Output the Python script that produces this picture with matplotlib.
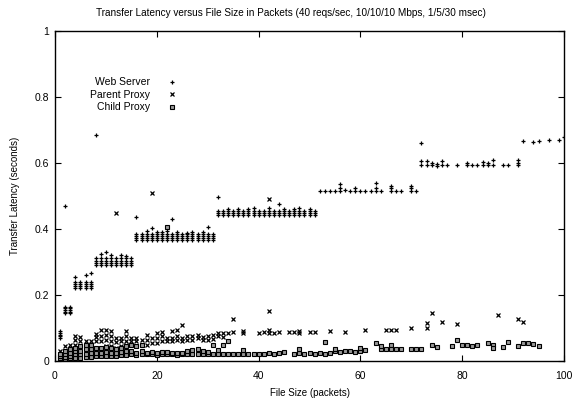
import matplotlib
matplotlib.use("Agg")
import matplotlib.pyplot as plt
from matplotlib.ticker import FuncFormatter

plt.rcParams['font.family'] = ['Liberation Sans', 'DejaVu Sans']

title = "Transfer Latency versus File Size in Packets (40 reqs/sec, 10/10/10 Mbps, 1/5/30 msec)"
xlabel = "File Size (packets)"
ylabel = "Transfer Latency (seconds)"
series_names = ["Web Server", "Parent Proxy", "Child Proxy"]
x_ticks = [0, 20, 40, 60, 80, 100]
y_ticks = [0, 0.2, 0.4, 0.6, 0.8, 1]

# file size -> observed latencies
web_server = {
    1: [0.07, 0.075, 0.08, 0.085, 0.09],
    2: [0.145, 0.15, 0.155, 0.16, 0.165, 0.47],
    3: [0.145, 0.15, 0.155, 0.16, 0.165],
    4: [0.22, 0.227, 0.234, 0.24, 0.255],
    5: [0.22, 0.227, 0.234, 0.24],
    6: [0.22, 0.227, 0.234, 0.24, 0.26],
    7: [0.22, 0.227, 0.234, 0.24, 0.267],
    8: [0.29, 0.297, 0.304, 0.311, 0.685],
    9: [0.29, 0.297, 0.304, 0.311, 0.325],
    10: [0.29, 0.297, 0.304, 0.311, 0.33],
    11: [0.29, 0.297, 0.304, 0.311, 0.32],
    12: [0.29, 0.297, 0.304, 0.311],
    13: [0.29, 0.297, 0.304, 0.311, 0.322],
    14: [0.29, 0.297, 0.304, 0.311, 0.318],
    15: [0.29, 0.297, 0.304, 0.311],
    16: [0.366, 0.372, 0.378, 0.384, 0.435],
    17: [0.366, 0.372, 0.378, 0.384],
    18: [0.366, 0.372, 0.378, 0.384, 0.395],
    19: [0.366, 0.372, 0.378, 0.384, 0.403],
    20: [0.366, 0.372, 0.378, 0.384, 0.39],
    21: [0.366, 0.372, 0.378, 0.384, 0.39],
    22: [0.366, 0.372, 0.378, 0.384, 0.395],
    23: [0.366, 0.372, 0.378, 0.384, 0.43],
    24: [0.366, 0.372, 0.378, 0.384, 0.39],
    25: [0.366, 0.372, 0.378, 0.384],
    26: [0.366, 0.372, 0.378, 0.384, 0.388],
    27: [0.366, 0.372, 0.378, 0.384, 0.39],
    28: [0.366, 0.372, 0.378, 0.384],
    29: [0.366, 0.372, 0.378, 0.384, 0.39],
    30: [0.366, 0.372, 0.378, 0.384, 0.405],
    31: [0.366, 0.372, 0.378, 0.384],
    32: [0.442, 0.448, 0.455, 0.497],
    33: [0.442, 0.448, 0.455],
    34: [0.442, 0.448, 0.455, 0.46],
    35: [0.442, 0.448, 0.455],
    36: [0.442, 0.448, 0.455, 0.46],
    37: [0.442, 0.448, 0.455],
    38: [0.442, 0.448, 0.455, 0.46],
    39: [0.442, 0.448, 0.455, 0.465],
    40: [0.442, 0.448, 0.455],
    41: [0.442, 0.448, 0.455],
    42: [0.442, 0.448, 0.455, 0.465],
    43: [0.442, 0.448, 0.455],
    44: [0.442, 0.448, 0.455, 0.476],
    45: [0.442, 0.448, 0.455, 0.46],
    46: [0.442, 0.448, 0.455],
    47: [0.442, 0.448, 0.455, 0.46],
    48: [0.442, 0.448, 0.455, 0.465],
    49: [0.442, 0.448, 0.455],
    50: [0.442, 0.448, 0.455, 0.462],
    51: [0.442, 0.448, 0.455],
    52: [0.515], 53: [0.515], 54: [0.515], 55: [0.515],
    56: [0.515, 0.525, 0.535], 57: [0.518], 58: [0.515],
    59: [0.515, 0.525], 60: [0.515], 61: [0.515], 62: [0.515],
    63: [0.515, 0.525, 0.54], 64: [0.515], 66: [0.515, 0.525, 0.53],
    67: [0.515], 68: [0.515], 70: [0.515, 0.525, 0.53], 71: [0.515],
    72: [0.594, 0.605, 0.66], 73: [0.594, 0.605], 74: [0.594, 0.6],
    75: [0.59, 0.597], 76: [0.594, 0.605], 77: [0.594], 79: [0.594],
    81: [0.594, 0.6], 82: [0.594], 83: [0.594], 84: [0.594, 0.603],
    85: [0.594, 0.6], 86: [0.594, 0.61], 88: [0.594], 89: [0.594],
    91: [0.594, 0.6, 0.61],
    92: [0.667], 94: [0.665], 95: [0.667], 97: [0.67], 99: [0.67], 100: [0.68],
}

parent_proxy = {
    1: [0.01, 0.02, 0.03],
    2: [0.015, 0.03, 0.045],
    3: [0.02, 0.035, 0.05],
    4: [0.03, 0.05, 0.065, 0.076],
    5: [0.025, 0.045, 0.06, 0.073],
    6: [0.03, 0.05, 0.06],
    7: [0.035, 0.05, 0.062],
    8: [0.04, 0.06, 0.072, 0.082],
    9: [0.04, 0.06, 0.075, 0.094],
    10: [0.045, 0.065, 0.08, 0.094],
    11: [0.045, 0.06, 0.075, 0.09],
    12: [0.04, 0.058, 0.07, 0.45],
    13: [0.045, 0.06, 0.07],
    14: [0.05, 0.06, 0.075, 0.09],
    15: [0.05, 0.06, 0.07],
    16: [0.045, 0.06, 0.07],
    17: [0.05, 0.065],
    18: [0.05, 0.065, 0.08],
    19: [0.055, 0.07, 0.51],
    20: [0.055, 0.07, 0.085],
    21: [0.06, 0.075, 0.088],
    22: [0.06, 0.07],
    23: [0.06, 0.07, 0.09],
    24: [0.065, 0.075, 0.093],
    25: [0.06, 0.07, 0.109],
    26: [0.065, 0.075],
    27: [0.065, 0.075],
    28: [0.07, 0.08],
    29: [0.065, 0.073],
    30: [0.065, 0.075],
    31: [0.068, 0.078],
    32: [0.075, 0.085], 33: [0.073, 0.085], 34: [0.085],
    35: [0.088, 0.127], 37: [0.085, 0.09], 40: [0.085], 41: [0.088],
    42: [0.085, 0.095, 0.152, 0.49], 43: [0.085], 44: [0.088],
    46: [0.088], 47: [0.088], 48: [0.085, 0.09], 50: [0.088], 51: [0.088],
    54: [0.092], 57: [0.088], 61: [0.093], 65: [0.094], 66: [0.094],
    67: [0.095], 70: [0.1], 73: [0.1, 0.115], 74: [0.145], 76: [0.118],
    79: [0.112], 87: [0.139], 91: [0.127], 92: [0.118],
}

child_proxy = {
    1: [0.005, 0.01, 0.015, 0.02],
    2: [0.005, 0.012, 0.02, 0.03],
    3: [0.008, 0.015, 0.025, 0.035],
    4: [0.01, 0.02, 0.03, 0.04],
    5: [0.01, 0.02, 0.03, 0.045],
    6: [0.012, 0.022, 0.035, 0.05],
    7: [0.012, 0.025, 0.035, 0.05],
    8: [0.015, 0.025, 0.038],
    9: [0.015, 0.025, 0.04],
    10: [0.015, 0.028, 0.042],
    11: [0.015, 0.025, 0.04],
    12: [0.015, 0.025, 0.035],
    13: [0.018, 0.028, 0.04],
    14: [0.018, 0.03, 0.045],
    15: [0.02, 0.03, 0.05],
    16: [0.018, 0.025, 0.045],
    17: [0.02, 0.03, 0.05],
    18: [0.02, 0.025],
    19: [0.02, 0.028],
    20: [0.018, 0.025],
    21: [0.02, 0.027],
    22: [0.02, 0.028, 0.405],
    23: [0.02, 0.025],
    24: [0.018, 0.024],
    25: [0.02, 0.025],
    26: [0.02, 0.03],
    27: [0.02, 0.033],
    28: [0.02, 0.035],
    29: [0.022, 0.03],
    30: [0.02, 0.028],
    31: [0.02, 0.048],
    32: [0.02, 0.033], 33: [0.02, 0.048], 34: [0.022, 0.06], 35: [0.02],
    36: [0.022], 37: [0.02, 0.033], 38: [0.022], 39: [0.02], 40: [0.022],
    41: [0.02], 42: [0.025], 43: [0.022], 44: [0.025], 45: [0.028],
    47: [0.022], 48: [0.025, 0.036], 49: [0.022], 50: [0.025], 51: [0.022],
    52: [0.025], 53: [0.022, 0.058], 54: [0.025], 55: [0.03, 0.036],
    56: [0.028], 57: [0.03], 58: [0.03], 59: [0.028], 60: [0.03, 0.039],
    61: [0.032], 63: [0.055], 64: [0.035, 0.045], 65: [0.035],
    66: [0.05, 0.035], 67: [0.035], 68: [0.035], 70: [0.035], 71: [0.035],
    72: [0.035], 74: [0.048], 75: [0.043], 78: [0.045], 79: [0.064],
    80: [0.048], 81: [0.048], 82: [0.045], 83: [0.048], 85: [0.055],
    86: [0.05, 0.04], 88: [0.043], 89: [0.058], 91: [0.045], 92: [0.055],
    93: [0.055], 94: [0.052], 95: [0.045],
}


def expand(d):
    xs, ys = [], []
    for k, vals in d.items():
        for v in vals:
            xs.append(k)
            ys.append(v)
    return xs, ys


fig = plt.figure(figsize=(5.82, 4.04), dpi=100)
ax = fig.add_axes([55 / 582, 43 / 404, 509 / 582, 330 / 404])

wx, wy = expand(web_server)
px, py = expand(parent_proxy)
cx, cy = expand(child_proxy)

ax.plot(wx, wy, linestyle='none', marker='+', markersize=3.2, markeredgewidth=0.9,
        color='black', label=series_names[0])
ax.plot(px, py, linestyle='none', marker='x', markersize=2.8, markeredgewidth=0.9,
        color='black', label=series_names[1])
ax.plot(cx, cy, linestyle='none', marker='s', markersize=3.2, markeredgewidth=0.8,
        markerfacecolor='#999999', markeredgecolor='black', color='black',
        label=series_names[2])

ax.set_xlim(0, 100)
ax.set_ylim(0, 1)
ax.set_xticks(x_ticks)
ax.set_yticks(y_ticks)
fmt = FuncFormatter(lambda v, p: f"{v:g}")
ax.xaxis.set_major_formatter(fmt)
ax.yaxis.set_major_formatter(fmt)
ax.tick_params(direction='in', length=4, width=0.8, top=True, right=True,
               labelsize=7.5)
ax.tick_params(axis='x', pad=7)
ax.tick_params(axis='y', pad=4)
for s in ax.spines.values():
    s.set_linewidth(1.0)

ax.set_xlabel(xlabel, fontsize=7, labelpad=5)
ax.set_ylabel(ylabel, fontsize=7, labelpad=11)
fig.text(0.5, 1 - 13 / 404, title, ha='center', va='center', fontsize=7.2)

ax.legend(loc='upper right', bbox_to_anchor=(0.24, 0.86), frameon=False,
          markerfirst=False, fontsize=7.5, handlelength=1.0, handletextpad=1.6,
          labelspacing=0.25, borderpad=0, borderaxespad=0)

fig.savefig("out.png", dpi=100)
